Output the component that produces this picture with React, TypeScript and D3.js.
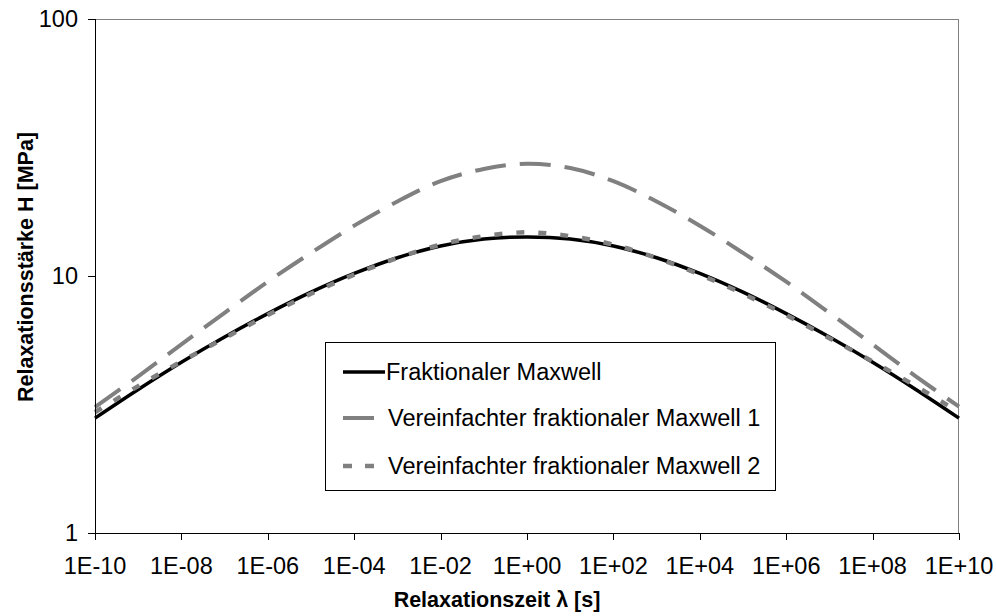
import React from "react";
import * as d3 from "d3";

// Relaxation time grid (decades) and relaxation strength H in MPa
const lambdaExponents = [-10, -9, -8, -7, -6, -5, -4, -3, -2, -1, 0, 1, 2, 3, 4, 5, 6, 7, 8, 9, 10];
const fraktionalerMaxwell = [2.8, 3.62, 4.62, 5.79, 7.14, 8.65, 10.23, 11.78, 13.09, 13.93, 14.19, 13.93, 13.09, 11.78, 10.23, 8.65, 7.14, 5.79, 4.62, 3.62, 2.8];
const vereinfacht1 = [3.09, 4.07, 5.42, 7.19, 9.5, 12.3, 15.7, 19.5, 23.4, 26.1, 27.35, 26.3, 23.4, 19.5, 15.7, 12.3, 9.5, 7.19, 5.42, 4.07, 3.1];
const vereinfacht2 = [2.95, 3.73, 4.65, 5.73, 7.05, 8.53, 10.12, 11.75, 13.24, 14.29, 14.79, 14.29, 13.24, 11.75, 10.12, 8.53, 7.05, 5.73, 4.65, 3.73, 2.95];

const xTickValues = [1e-10, 1e-8, 1e-6, 1e-4, 1e-2, 1e0, 1e2, 1e4, 1e6, 1e8, 1e10];
const xTickLabels = ["1E-10", "1E-08", "1E-06", "1E-04", "1E-02", "1E+00", "1E+02", "1E+04", "1E+06", "1E+08", "1E+10"];
const yTickValues = [1, 10, 100];
const yTickLabels = ["1", "10", "100"];

const seriesNames = ["Fraktionaler Maxwell", "Vereinfachter fraktionaler Maxwell 1", "Vereinfachter fraktionaler Maxwell 2"];

const W = 996;
const H = 616;
const plot = { left: 95, right: 959, top: 19, bottom: 533 };
const FONT = "'Liberation Sans', Arial, sans-serif";

export default function App() {
  const x = d3.scaleLog().domain([1e-10, 1e10]).range([plot.left, plot.right]);
  const y = d3.scaleLog().domain([1, 100]).range([plot.bottom, plot.top]);

  const line = d3
    .line<[number, number]>()
    .x((d) => x(Math.pow(10, d[0])))
    .y((d) => y(d[1]))
    .curve(d3.curveCatmullRom.alpha(0.5));

  const toPts = (vals: number[]) => lambdaExponents.map((e, i) => [e, vals[i]] as [number, number]);

  const styles = [
    { values: fraktionalerMaxwell, stroke: "#000000", width: 3.5, dash: undefined as string | undefined },
    { values: vereinfacht1, stroke: "#808080", width: 4, dash: "31,14" },
    { values: vereinfacht2, stroke: "#808080", width: 4.5, dash: "8,14" },
  ];

  const legend = { x: 325, y: 342, w: 450, h: 148 };
  const rowY = [372, 418, 466];

  return (
    <svg width={W} height={H} style={{ display: "block", position: "absolute", left: 0, top: 0 }}>
      <rect x={0} y={0} width={W} height={H} fill="#ffffff" />

      {/* plot area frame */}
      <line x1={plot.left} x2={plot.right} y1={plot.top + 0.5} y2={plot.top + 0.5} stroke="#808080" strokeWidth={1} />
      <line x1={plot.right - 0.5} x2={plot.right - 0.5} y1={plot.top} y2={plot.bottom} stroke="#808080" strokeWidth={1} />

      {/* series */}
      {styles.map((s, i) => (
        <path
          key={i}
          d={line(toPts(s.values)) ?? ""}
          fill="none"
          stroke={s.stroke}
          strokeWidth={s.width}
          strokeDasharray={s.dash}
          strokeLinejoin="round"
        />
      ))}

      {/* axes */}
      <line x1={plot.left + 0.5} x2={plot.left + 0.5} y1={plot.top} y2={plot.bottom} stroke="#000" strokeWidth={1} />
      <line x1={plot.left} x2={plot.right} y1={plot.bottom + 0.5} y2={plot.bottom + 0.5} stroke="#000" strokeWidth={1} />

      {yTickValues.map((v, i) => (
        <g key={"y" + i}>
          <line x1={plot.left - 7} x2={plot.left} y1={Math.round(y(v)) + 0.5} y2={Math.round(y(v)) + 0.5} stroke="#000" />
          <text x={plot.left - 17} y={y(v)} dy="0.35em" textAnchor="end" fontFamily={FONT} fontSize={23.5} fill="#000">
            {yTickLabels[i]}
          </text>
        </g>
      ))}

      {xTickValues.map((v, i) => (
        <g key={"x" + i}>
          <line x1={Math.round(x(v)) + 0.5} x2={Math.round(x(v)) + 0.5} y1={plot.bottom} y2={plot.bottom + 7} stroke="#000" />
          <text x={x(v)} y={574} textAnchor="middle" fontFamily={FONT} fontSize={23.5} fill="#000">
            {xTickLabels[i]}
          </text>
        </g>
      ))}

      {/* axis titles */}
      <text x={497} y={607} textAnchor="middle" fontFamily={FONT} fontSize={21.5} fontWeight="bold" fill="#000">
        Relaxationszeit λ [s]
      </text>
      <text
        transform="translate(33,267) rotate(-90)"
        textAnchor="middle"
        fontFamily={FONT}
        fontSize={21.5}
        fontWeight="bold"
        fill="#000"
      >
        Relaxationsstärke H [MPa]
      </text>

      {/* legend */}
      <rect x={legend.x + 0.5} y={legend.y + 0.5} width={legend.w} height={legend.h} fill="#ffffff" stroke="#000" strokeWidth={1} />
      {styles.map((s, i) => (
        <g key={"lg" + i}>
          <line
            x1={343}
            x2={i === 0 ? 385 : 374}
            y1={rowY[i]}
            y2={rowY[i]}
            stroke={s.stroke}
            strokeWidth={s.width}
            strokeDasharray={i === 2 ? "9,13" : undefined}
          />
          <text x={i === 0 ? 386 : 388} y={rowY[i]} dy="0.35em" fontFamily={FONT} fontSize={23.5} fill="#000">
            {seriesNames[i]}
          </text>
        </g>
      ))}
    </svg>
  );
}
